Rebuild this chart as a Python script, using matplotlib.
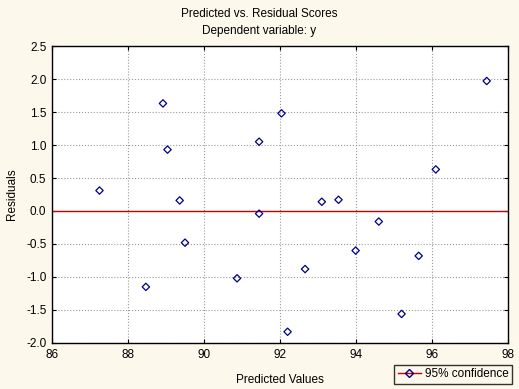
import matplotlib
matplotlib.use('Agg')
import matplotlib.pyplot as plt
from matplotlib.lines import Line2D

# Data
predicted = [87.25, 88.47, 88.92, 89.04, 89.36, 89.50, 90.87, 91.45, 91.45,
             92.04, 92.20, 92.66, 93.10, 93.54, 93.99, 94.60, 95.20, 95.65,
             96.10, 97.44]
residuals = [0.31, -1.15, 1.63, 0.93, 0.16, -0.48, -1.02, 1.05, -0.04,
             1.48, -1.83, -0.88, 0.14, 0.17, -0.60, -0.16, -1.56, -0.68,
             0.63, 1.97]
xticks = [86, 88, 90, 92, 94, 96, 98]
yticks = [-2.0, -1.5, -1.0, -0.5, 0.0, 0.5, 1.0, 1.5, 2.0, 2.5]

bg = '#FDF8EC'
plt.rcParams['font.family'] = ['Liberation Sans', 'DejaVu Sans']
plt.rcParams['font.size'] = 8.5

fig = plt.figure(figsize=(5.19, 3.89), dpi=100, facecolor=bg)
ax = fig.add_axes([0.1002, 0.1183, 0.8786, 0.7634])
ax.set_facecolor('white')

# Residual points and zero line
ax.scatter(predicted, residuals, marker='D', s=14, facecolors='none',
           edgecolors='#000080', linewidths=0.9, zorder=3)
ax.axhline(0, color='#CC0000', linewidth=1.0, zorder=2)

# Style axes
ax.set_xlim(86, 98)
ax.set_ylim(-2.0, 2.5)
ax.set_xticks(xticks)
ax.set_yticks(yticks)
ax.set_yticklabels(['%.1f' % v for v in yticks])
ax.grid(True, linestyle=':', color='#9A9A9A', linewidth=0.8)
ax.set_axisbelow(True)
ax.tick_params(direction='in', length=3, top=True, right=True,
               labeltop=False, labelright=False, colors='black', pad=4)
for spine in ax.spines.values():
    spine.set_linewidth(1.0)
    spine.set_color('black')

ax.set_xlabel('Predicted Values', labelpad=10)
ax.set_ylabel('Residuals', labelpad=6)

fig.text(0.5, 1 - 14 / 389, 'Predicted vs. Residual Scores',
         ha='center', va='center')
fig.text(0.5, 1 - 31 / 389, 'Dependent variable: y',
         ha='center', va='center')

# Legend
handle = Line2D([0], [0], color='#CC0000', linewidth=1.0, marker='D',
                markersize=4, markerfacecolor='none',
                markeredgecolor='#000080')
leg = fig.legend([handle], ['95% confidence'], loc='lower right',
                 bbox_to_anchor=(512 / 519, 5 / 389), frameon=True,
                 fancybox=False, handlelength=2.0, handletextpad=0.3,
                 borderpad=0.3, borderaxespad=0)
leg.get_frame().set_edgecolor('black')
leg.get_frame().set_facecolor(bg)
leg.get_frame().set_linewidth(1.0)

fig.savefig('out.png', dpi=100, facecolor=bg)
